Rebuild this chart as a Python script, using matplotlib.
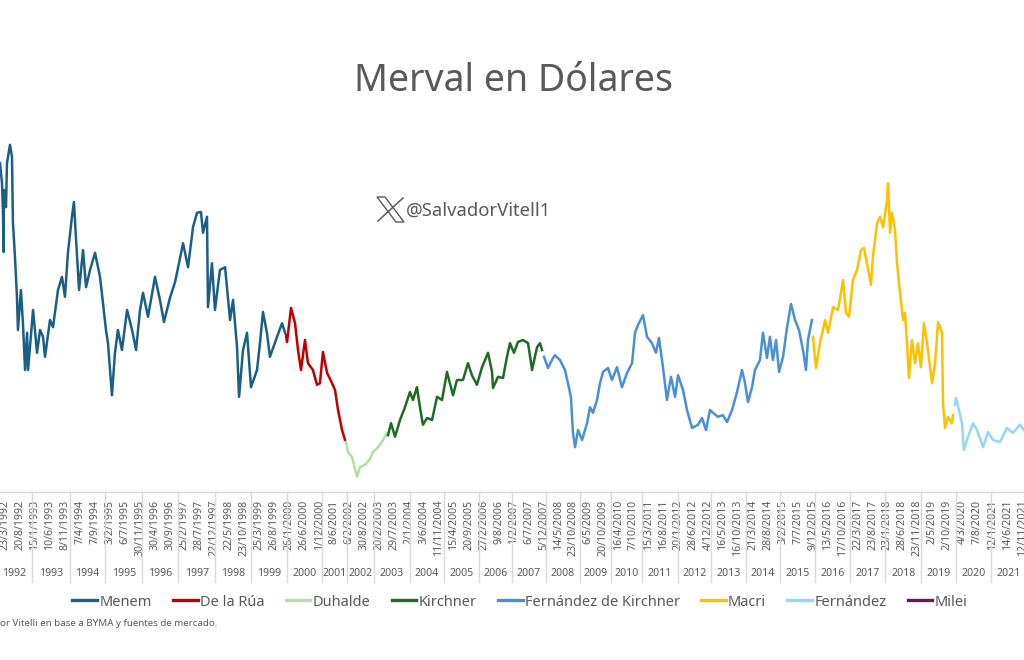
import matplotlib
matplotlib.use("Agg")
import matplotlib.pyplot as plt
import matplotlib.transforms as mtransforms
from matplotlib.lines import Line2D
from matplotlib.patches import Polygon

plt.rcParams["font.family"] = ["Noto Sans", "DejaVu Sans"]

GREY = "#595959"
AXIS_GREY = "#D9D9D9"

# eje de categorias: cantidad de ruedas por año (desde el 2/1/1992)
years = list(range(1992, 2022))
ruedas_por_anio = [250, 267, 246, 260, 253, 260, 253, 253, 246, 176,
                   183, 253, 239, 246, 232, 239, 239, 218, 218, 253,
                   232, 246, 239, 246, 246, 246, 253, 246, 246, 250]

# etiquetas de fecha cada 105 ruedas
tick_start = 60
tick_step = 105
tick_labels = [
    "23/3/1992", "20/8/1992", "15/1/1993", "10/6/1993", "8/11/1993",
    "7/4/1994", "7/9/1994", "3/2/1995", "6/7/1995", "30/11/1995",
    "30/4/1996", "30/9/1996", "25/2/1997", "28/7/1997", "22/12/1997",
    "22/5/1998", "23/10/1998", "25/3/1999", "26/8/1999", "26/1/2000",
    "26/6/2000", "1/12/2000", "8/6/2001", "6/2/2002", "30/8/2002",
    "20/2/2003", "29/7/2003", "2/1/2004", "3/6/2004", "11/11/2004",
    "15/4/2005", "20/9/2005", "27/2/2006", "9/8/2006", "1/2/2007",
    "6/7/2007", "5/12/2007", "14/5/2008", "23/10/2008", "6/5/2009",
    "20/10/2009", "16/4/2010", "7/10/2010", "15/3/2011", "16/8/2011",
    "20/1/2012", "28/6/2012", "4/12/2012", "16/5/2013", "16/10/2013",
    "21/3/2014", "28/8/2014", "3/2/2015", "7/7/2015", "9/12/2015",
    "13/5/2016", "17/10/2016", "22/3/2017", "23/8/2017", "23/1/2018",
    "28/6/2018", "23/11/2018", "2/5/2019", "2/10/2019", "4/3/2020",
    "7/8/2020", "12/1/2021", "14/6/2021", "12/11/2021",
]

# Merval en USD (rueda, valor)
menem_x = [25, 39, 46, 50, 53, 67, 74, 95, 109, 116, 130, 144, 151, 172, 186,
           201, 215, 222, 257, 285, 306, 327, 341, 376, 397, 432, 460, 481,
           502, 530, 544, 559, 580, 608, 629, 657, 692, 727, 748, 769, 783,
           811, 832, 853, 881, 917, 952, 980, 1008, 1029, 1064, 1113, 1148,
           1176, 1218, 1254, 1289, 1310, 1345, 1380, 1408, 1436, 1450, 1478,
           1485, 1513, 1534, 1569, 1605, 1640, 1661, 1689, 1703, 1731, 1759,
           1787, 1829, 1850, 1871, 1899, 1920, 1970, 2005, 2026]
menem_y = [822, 772, 698, 600, 755, 712, 822, 868, 838, 672, 588, 488, 405,
           505, 422, 305, 398, 305, 455, 348, 405, 388, 338, 430, 412, 505,
           538, 488, 598, 688, 725, 630, 505, 605, 512, 555, 598, 538, 472,
           405, 372, 242, 348, 405, 355, 455, 405, 355, 455, 498, 438, 538,
           480, 425, 485, 525, 585, 622, 562, 662, 698, 700, 648, 688, 462,
           572, 455, 555, 562, 430, 480, 362, 238, 355, 398, 262, 305, 372,
           450, 398, 338, 388, 422, 398]

delarua_x = [2033, 2040, 2068, 2096, 2117, 2138, 2166, 2187, 2222, 2250, 2271,
             2292, 2321, 2356, 2377, 2398, 2426, 2447]
delarua_y = [392, 375, 460, 422, 355, 305, 380, 322, 305, 268, 272, 350, 298,
             272, 255, 205, 155, 130]

duhalde_x = [2454, 2468, 2496, 2531, 2552, 2587, 2622, 2643, 2679, 2714, 2742]
duhalde_y = [125, 100, 88, 38, 62, 68, 82, 100, 112, 130, 148]

kirchner_x = [2749, 2770, 2798, 2833, 2868, 2903, 2924, 2952, 2973, 2994, 3023,
              3058, 3093, 3128, 3163, 3205, 3233, 3275, 3310, 3338, 3373, 3409,
              3451, 3479, 3486, 3521, 3556, 3584, 3605, 3633, 3661, 3696, 3732,
              3760, 3795, 3816, 3830]
kirchner_y = [142, 172, 138, 180, 212, 250, 230, 262, 212, 168, 185, 180, 238,
              230, 300, 242, 280, 280, 322, 292, 268, 312, 348, 300, 260, 288,
              285, 338, 372, 348, 375, 380, 372, 305, 362, 372, 355]

cfk_x = [3844, 3872, 3907, 3921, 3956, 3991, 4012, 4033, 4047, 4062, 4083, 4111,
         4146, 4167, 4188, 4216, 4237, 4258, 4293, 4321, 4356, 4391, 4427, 4462,
         4483, 4504, 4539, 4567, 4602, 4630, 4651, 4679, 4707, 4735, 4764, 4785,
         4820, 4848, 4883, 4925, 4953, 4981, 5009, 5030, 5065, 5100, 5129, 5164,
         5199, 5234, 5255, 5276, 5304, 5325, 5360, 5381, 5409, 5430, 5451, 5473,
         5494, 5522, 5550, 5578, 5606, 5634, 5662, 5683, 5697, 5725]
cfk_y = [338, 310, 335, 342, 330, 305, 272, 238, 148, 112, 155, 130, 172, 212,
         198, 230, 272, 300, 310, 280, 312, 262, 298, 322, 398, 418, 442, 388,
         372, 348, 385, 312, 230, 288, 238, 292, 255, 205, 160, 168, 185, 155,
         205, 198, 188, 192, 175, 205, 250, 305, 272, 225, 262, 305, 330, 398,
         335, 388, 330, 380, 300, 338, 412, 470, 430, 405, 355, 305, 380, 430]

macri_x = [5732, 5753, 5781, 5817, 5838, 5873, 5908, 5943, 5964, 5985, 6013,
           6041, 6069, 6090, 6111, 6139, 6153, 6182, 6203, 6224, 6252, 6259,
           6273, 6287, 6308, 6322, 6343, 6364, 6378, 6392, 6406, 6427, 6448,
           6469, 6490, 6511, 6533, 6568, 6589, 6610, 6638, 6645, 6659, 6680,
           6708, 6715]
macri_y = [388, 310, 372, 430, 398, 462, 455, 530, 448, 438, 530, 555, 605,
           610, 572, 518, 588, 672, 688, 662, 730, 772, 648, 698, 655, 572,
           498, 430, 448, 372, 285, 380, 322, 372, 312, 422, 372, 272, 322,
           425, 398, 222, 160, 188, 172, 192]

fernandez_x = [6729, 6736, 6757, 6778, 6792, 6820, 6855, 6884, 6926, 6961, 6996,
               7045, 7094, 7136, 7185, 7213]
fernandez_y = [218, 235, 205, 172, 105, 138, 172, 155, 112, 150, 130, 125, 160,
               148, 168, 155]

milei_x = []
milei_y = []

presidents = [
    ("Menem", menem_x, menem_y, "#1C5F86"),
    ("De la Rúa", delarua_x, delarua_y, "#C00000"),
    ("Duhalde", duhalde_x, duhalde_y, "#B2DFA6"),
    ("Kirchner", kirchner_x, kirchner_y, "#1E6B23"),
    ("Fernández de Kirchner", cfk_x, cfk_y, "#4A90D6"),
    ("Macri", macri_x, macri_y, "#FFC000"),
    ("Fernández", fernandez_x, fernandez_y, "#93D6F5"),
    ("Milei", milei_x, milei_y, "#6E1562"),
]

W, H = 1024, 660
fig = plt.figure(figsize=(W / 100, H / 100), dpi=100)
ax_top, ax_bottom = 130, 492
ax = fig.add_axes([0, 1 - ax_bottom / H, 1, (ax_bottom - ax_top) / H])

for name, xs, ys, color in presidents:
    ax.plot(xs, ys, color=color, lw=1.8, solid_joinstyle="round", label=name)

ax.set_xlim(25, 7213.5)
ax.set_ylim(0, 905)
ax.set_yticks([])
for side in ["left", "right", "top"]:
    ax.spines[side].set_visible(False)
ax.spines["bottom"].set_color(AXIS_GREY)
ax.spines["bottom"].set_linewidth(1.0)

ax.set_xticks([tick_start + i * tick_step for i in range(len(tick_labels))])
ax.set_xticklabels(tick_labels)
ax.tick_params(axis="x", length=0, pad=5.5, labelsize=7.6,
               labelcolor=GREY, rotation=90)

# segundo nivel del eje: años con separadores
ax_h = ax_bottom - ax_top
trans = mtransforms.blended_transform_factory(ax.transData, ax.transAxes)
start = 0
for year, n in zip(years, ruedas_por_anio):
    ax.add_line(Line2D([start, start], [0, -(582 - ax_bottom) / ax_h],
                       transform=trans, color=AXIS_GREY, lw=1.0, clip_on=False))
    ax.text(start + n / 2, -(574 - ax_bottom) / ax_h, str(year),
            transform=trans, ha="center", va="center", fontsize=7.6,
            color=GREY, clip_on=False)
    start += n
ax.add_line(Line2D([start, start], [0, -(582 - ax_bottom) / ax_h],
                   transform=trans, color=AXIS_GREY, lw=1.0, clip_on=False))

fig.text(514 / W, 1 - 91 / H, "Merval en Dólares", ha="center",
         va="baseline", fontsize=27, color=GREY)

# marca de agua
fig.text(406 / W, 1 - 216 / H, "@SalvadorVitell1", ha="left",
         va="baseline", fontsize=13.3, color=GREY)
fig.add_artist(Line2D([403 / W, 378 / W], [1 - 198 / H, 1 - 221 / H],
                      transform=fig.transFigure, color=GREY, lw=1.1))
fig.add_artist(Polygon([[377 / W, 1 - 197 / H], [385 / W, 1 - 197 / H],
                        [404 / W, 1 - 222 / H], [396 / W, 1 - 222 / H]],
                       closed=True, transform=fig.transFigure,
                       facecolor="white", edgecolor=GREY, lw=1.0))

handles = [Line2D([0], [0], color=c, lw=2.4) for _, _, _, c in presidents]
labels = [n for n, _, _, _ in presidents]
leg = fig.legend(handles, labels, loc="center", ncol=8, frameon=False,
                 bbox_to_anchor=(520 / W, 1 - 602 / H), fontsize=10.5,
                 handlelength=1.7, handletextpad=0.15, columnspacing=1.45)
for t in leg.get_texts():
    t.set_color(GREY)

fig.text(0, 1 - 624 / H, "or Vitelli en base a BYMA y fuentes de mercado.",
         ha="left", va="center", fontsize=7, color=GREY)

fig.savefig("out.png", dpi=100, facecolor="white")
